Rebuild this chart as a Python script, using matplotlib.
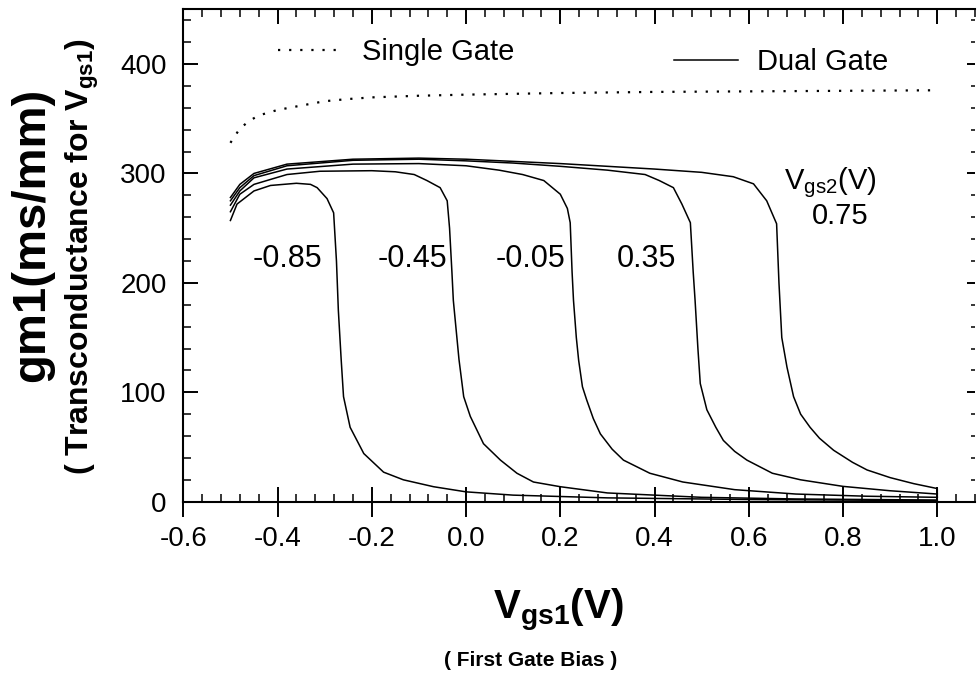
import matplotlib.pyplot as plt
import matplotlib.lines as mlines
from matplotlib.lines import Line2D
from matplotlib.ticker import MultipleLocator

plt.rcParams['font.family'] = ['Liberation Sans', 'DejaVu Sans']
plt.rcParams['mathtext.fontset'] = 'custom'
plt.rcParams['mathtext.rm'] = 'Liberation Sans'
plt.rcParams['mathtext.bf'] = 'Liberation Sans:bold'

# single gate (dotted)
single_x = [-0.50, -0.48, -0.46, -0.44, -0.40, -0.35, -0.30, -0.25, -0.20, -0.10,
            0.0, 0.2, 0.4, 0.6, 0.8, 1.0]
single_g = [328, 341, 348, 353, 358, 362, 366, 368, 369.5, 371,
            372, 373.5, 374.5, 375, 375.5, 376]

# dual gate, Vgs2 = -0.85
x_m085 = [-0.50, -0.486, -0.45, -0.415, -0.36, -0.33, -0.316, -0.295, -0.281, -0.275,
          -0.271, -0.265, -0.26, -0.246, -0.217, -0.175, -0.133, -0.069, 0.0, 0.1, 0.3, 0.6, 1.0]
g_m085 = [257, 272, 284, 289, 291, 290, 287, 277, 264, 220,
          175, 130, 96, 68, 44, 27, 20, 13.7, 9, 6, 3.5, 2, 1]

# Vgs2 = -0.45
x_m045 = [-0.50, -0.48, -0.45, -0.38, -0.31, -0.2, -0.15, -0.11, -0.083, -0.055, -0.04,
          -0.035, -0.03, -0.027, -0.015, -0.005, 0.009, 0.037, 0.073, 0.108, 0.143, 0.2,
          0.3, 0.5, 0.7, 1.0]
g_m045 = [265, 281, 290, 299, 302, 302.5, 301.5, 299, 293.5, 287, 275,
          250, 210, 184, 130, 96, 78, 53, 38, 26, 18, 13.7,
          8, 4, 2.5, 1.5]

# Vgs2 = -0.05
x_m005 = [-0.50, -0.48, -0.45, -0.38, -0.24, -0.1, 0.0, 0.07, 0.12, 0.165, 0.2, 0.215,
          0.221, 0.225, 0.228, 0.234, 0.239, 0.247, 0.256, 0.27, 0.285, 0.31, 0.334,
          0.39, 0.46, 0.57, 0.7, 0.85, 1.0]
g_m005 = [271, 284, 296, 304, 308.5, 309, 307, 303, 299, 293.5, 281, 268,
          255, 210, 184, 150, 129, 105, 93, 76, 62, 48, 38,
          26, 18, 11, 7, 5, 4]

# Vgs2 = 0.35
x_p035 = [-0.50, -0.48, -0.45, -0.38, -0.24, -0.1, 0.0, 0.1, 0.2, 0.3, 0.38, 0.41,
          0.44, 0.458, 0.476, 0.482, 0.486, 0.492, 0.497, 0.511, 0.53, 0.546, 0.57,
          0.596, 0.65, 0.71, 0.8, 0.9, 1.0]
g_p035 = [275, 287, 298, 307, 312, 313, 311.5, 309.5, 306.5, 303, 299, 293.5,
          287, 272, 255, 210, 184, 140, 108, 84, 68, 56, 46,
          38, 26, 20, 14, 10, 7]

# Vgs2 = 0.75
x_p075 = [-0.50, -0.48, -0.45, -0.38, -0.24, -0.1, 0.0, 0.1, 0.2, 0.3, 0.4, 0.5,
          0.567, 0.61, 0.638, 0.659, 0.664, 0.67, 0.681, 0.695, 0.71, 0.73, 0.75,
          0.78, 0.82, 0.851, 0.9, 0.95, 1.0, 1.0]
g_p075 = [278, 290, 300, 308.5, 313, 314, 313, 311, 309, 306.5, 304, 301,
          297, 290.5, 275, 254, 200, 150, 123, 96, 80, 68, 58,
          47, 36, 29, 22, 16.5, 12, 4]

dual_x = [x_m085, x_m045, x_m005, x_p035, x_p075]
dual_g = [g_m085, g_m045, g_m005, g_p035, g_p075]

vgs2_labels = ['-0.85', '-0.45', '-0.05', '0.35']
label_x = [-0.38, -0.113, 0.136, 0.382]
label_y = 222

fig = plt.figure(figsize=(9.77, 6.82), dpi=100)
ax = fig.add_axes([183.3 / 977, 1 - 501.7 / 682, 791.7 / 977, 492.4 / 682])

dotted = (0, (1, 4))
ax.plot(single_x, single_g, color='black', lw=1.6, linestyle=dotted)
for xs, gs in zip(dual_x, dual_g):
    ax.plot(xs, gs, color='black', lw=1.1)

ax.set_xlim(-0.6, 1.08)
ax.set_ylim(0, 450)

ax.xaxis.set_major_locator(MultipleLocator(0.2))
ax.xaxis.set_minor_locator(MultipleLocator(0.04))
ax.yaxis.set_major_locator(MultipleLocator(100))
ax.yaxis.set_minor_locator(MultipleLocator(20))
ax.set_xticks([-0.6, -0.4, -0.2, 0.0, 0.2, 0.4, 0.6, 0.8, 1.0])
ax.set_xticklabels(['-0.6', '-0.4', '-0.2', '0.0', '0.2', '0.4', '0.6', '0.8', '1.0'])

ax.spines['right'].set_visible(False)
for s in ['left', 'top', 'bottom']:
    ax.spines[s].set_linewidth(1.5)

ax.tick_params(axis='x', which='major', direction='inout', length=21, width=1.4,
               labelsize=20, pad=7, top=True)
ax.tick_params(axis='x', which='minor', direction='in', length=5.5, width=1.1, top=True)
ax.tick_params(axis='y', which='major', direction='in', length=10.5, width=1.4,
               labelsize=20, pad=12, right=True)
ax.tick_params(axis='y', which='minor', direction='in', length=5.5, width=1.1, right=True)

# top major ticks point inward only; right-hand ticks are short
for t in ax.xaxis.get_major_ticks():
    t.tick2line.set_marker(mlines.TICKDOWN)
    t.tick2line.set_markersize(10.5)
for t in ax.yaxis.get_major_ticks():
    t.tick2line.set_markersize(6)
for t in ax.yaxis.get_minor_ticks():
    t.tick2line.set_markersize(3)

for txt, lx in zip(vgs2_labels, label_x):
    ax.text(lx, label_y, txt, fontsize=22, ha='center', va='center')
ax.text(0.772, 291.5, r'V$_{\mathregular{gs2}}$(V)', fontsize=21, ha='center', va='center')
ax.text(0.793, 261.5, '0.75', fontsize=21, ha='center', va='center')

leg1 = ax.legend([Line2D([], [], color='black', lw=1.6, linestyle=dotted)], ['Single Gate'],
                 loc='center left', bbox_to_anchor=(0.1196, 0.913), frameon=False,
                 fontsize=21, handlelength=2.02, handletextpad=0.86,
                 borderpad=0, borderaxespad=0)
ax.add_artist(leg1)
ax.legend([Line2D([], [], color='black', lw=1.1)], ['Dual Gate'],
          loc='center left', bbox_to_anchor=(0.6197, 0.893), frameon=False,
          fontsize=21, handlelength=2.19, handletextpad=0.65,
          borderpad=0, borderaxespad=0)

fig.text(32 / 977, 1 - 235 / 682, 'gm1(ms/mm)', rotation=90, fontsize=34,
         fontweight='bold', ha='center', va='center')
fig.text(82 / 977, 1 - 257 / 682, r'( Transconductance for V$_{\mathbf{gs1}}$)', rotation=90,
         fontsize=23, fontweight='bold', ha='center', va='center')
fig.text(558 / 977, 1 - 610 / 682, r'V$_{\mathbf{gs1}}$(V)', fontsize=29,
         fontweight='bold', ha='center', va='center')
fig.text(531 / 977, 1 - 661 / 682, '( First Gate Bias )', fontsize=15,
         fontweight='bold', ha='center', va='center')

fig.savefig('out.png', dpi=100)
